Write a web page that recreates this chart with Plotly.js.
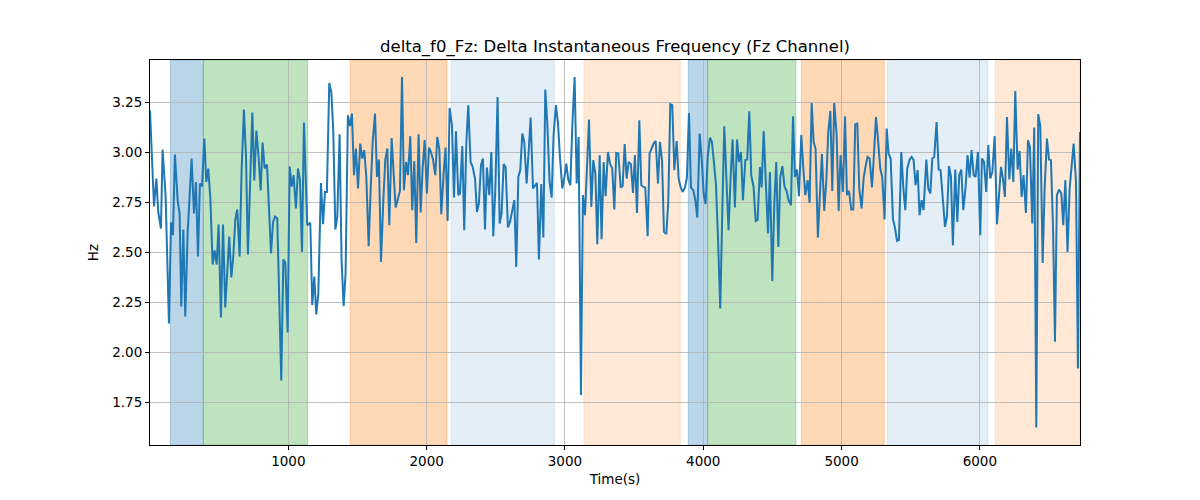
<!DOCTYPE html>
<html>
<head>
<meta charset="utf-8">
<script src="https://cdn.plot.ly/plotly-3.0.1.min.js"></script>
<style>
  body { margin: 0; background: #fff; }
  #myDiv { width: 1200px; height: 500px; }
</style>
</head>
<body>
<div id="myDiv"></div>
<script>
var timeA = [0,29,46,60,79,91,113,137,152,166,180,200,214,226,241,255,272,287,301,318,332,347,361,376,393,407,421,436,453,467,482,496,513,528,544,573,588,602,617,631,648,662,679,694,708,740,754,769,785,800,814,829,846,875,889,904,920,949,964,978,995,1010,1024,1038,1055,1070,1084,1099,1113,1137];
var hzA = [3.21,2.73,2.87,2.70,2.62,3.015,2.78,2.145,2.65,2.587,2.99,2.76,2.695,2.23,2.615,2.18,2.595,2.795,2.97,2.695,2.853,2.48,2.845,2.83,3.07,2.853,2.92,2.775,2.44,2.51,2.44,2.64,2.175,2.64,2.225,2.58,2.375,2.48,2.665,2.715,2.48,2.903,3.215,2.98,2.49,3.20,2.86,3.11,2.98,2.81,3.05,2.92,2.94,2.495,2.65,2.68,2.67,1.86,2.465,2.45,2.10,2.93,2.83,2.887,2.72,2.92,2.865,2.503,3.15,2.637];

var timeB = [1159,1173,1188,1202,1217,1236,1251,1265,1279,1296,1311,1325,1340,1354,1371,1385,1400,1414,1431,1446,1460,1475,1489,1504,1520,1535,1549,1564,1581,1595,1610,1627,1641,1655,1670,1687,1701,1716,1730,1747,1761,1776,1790,1807,1822,1836,1851,1865,1882,1896,1911,1925,1942,1957,1971,1986,2002,2017,2031,2046,2063,2077,2092,2106,2123,2137,2152,2166,2183,2198,2212,2229];
var hzB = [2.648,2.237,2.38,2.19,2.295,2.848,2.642,2.803,2.803,3.348,3.303,3.112,2.615,2.678,3.092,2.462,2.232,2.395,3.187,3.132,3.195,2.887,3.02,2.82,3.045,2.97,3.012,2.878,2.532,2.812,3.053,3.195,2.878,2.965,2.453,2.762,2.962,3.02,2.637,3.073,2.928,2.725,2.762,2.808,3.378,2.812,2.953,2.887,3.082,2.712,2.957,2.548,3.092,2.70,2.92,3.062,2.795,3.025,3.003,2.965,2.887,3.078,3.015,2.692,2.895,3.025,2.658,3.223,3.137,2.775,3.107,2.787];

var timeC = [2241,2258,2272,2287,2301,2318,2333,2350,2364,2378,2393,2407,2422,2436,2453,2468,2482,2497,2513,2528,2542,2557,2571,2588,2603,2617,2634,2648,2663,2677,2692,2706,2723,2737,2752,2769,2783,2798,2812,2829,2844,2858,2872,2889,2904,2918,2935,2950,2964,2981,2995,3010,3024,3039,3053,3070,3085,3099,3116,3130,3145,3159,3174,3191,3205,3220,3234,3251,3265,3280,3294,3311,3326];
var hzC = [2.795,3.032,2.612,3.045,3.237,2.953,2.928,2.87,2.703,2.745,2.937,2.97,2.615,2.925,2.787,3.003,2.582,2.82,3.278,2.645,2.695,2.942,2.928,2.625,2.653,2.695,2.762,2.428,2.878,2.912,3.095,3.053,2.845,2.995,3.175,2.82,2.837,2.848,2.465,2.842,2.575,3.315,3.153,2.853,2.775,3.087,3.237,3.145,2.978,2.82,2.87,2.945,2.865,2.837,3.128,3.378,2.845,3.078,1.787,2.787,2.687,2.92,3.165,2.728,2.962,2.895,2.542,2.987,2.567,2.953,2.782,3.003,2.945];

var timeD = [3342,3357,3371,3386,3403,3417,3432,3446,3461,3477,3492,3506,3521,3538,3552,3567,3581,3598,3612,3627,3641,3656,3673,3687,3702,3716,3733,3747,3762,3776,3791,3808,3822,3836,3851,3868,3882,3897,3911,3928,3943,3957,3974,3988,4003,4017,4032,4049,4063,4077,4092,4106,4123,4138,4152,4167,4183,4198,4212,4229,4244,4258,4273,4287,4304,4318,4333,4347,4364,4379,4393,4410];
var hzD = [2.92,2.715,2.998,2.995,2.825,2.832,3.042,2.87,2.953,2.942,2.798,2.987,2.698,3.162,2.837,2.828,2.825,2.582,2.995,3.02,3.045,3.058,2.845,3.053,2.962,2.603,2.592,2.753,3.242,3.237,2.912,3.057,2.87,2.828,2.803,2.825,2.875,3.198,2.825,2.812,2.762,2.675,3.095,2.978,2.795,2.742,2.978,3.075,3.053,2.953,2.837,2.587,2.22,2.712,3.132,2.878,2.612,2.878,3.065,2.725,3.065,2.953,3.003,2.762,2.962,2.965,3.207,2.887,2.828,2.658,2.662,2.928];

var timeE = [4422,4437,4454,4468,4482,4499,4514,4528,4543,4557,4572,4588,4603,4617,4634,4649,4663,4678,4692,4709,4723,4738,4755,4769,4784,4798,4812,4829,4844,4858,4875,4890,4904,4919,4933,4947,4964,4979,4993,5010,5025,5039,5054,5070,5085,5099,5114,5128,5145,5160,5174,5188,5203,5220,5234,5249,5263,5280,5294,5311,5326,5340,5355,5372,5386,5401,5415,5432,5446,5461,5475,5492];
var hzE = [2.825,3.107,2.828,2.595,2.903,2.358,2.745,2.953,2.528,2.878,2.932,2.828,2.808,2.762,2.737,3.182,2.878,2.915,2.782,3.087,2.928,2.787,2.862,2.748,3.248,3.053,3.02,2.575,2.798,2.992,2.708,2.862,3.103,3.208,2.808,3.248,3.095,2.708,2.987,2.803,3.182,2.787,2.808,2.715,2.715,3.142,3.145,2.82,2.72,2.875,2.932,2.978,2.97,2.825,2.987,3.178,3.07,2.92,2.878,2.665,3.12,2.995,2.97,2.665,2.625,2.558,2.562,3.003,2.828,2.712,2.92,2.965];

var timeF = [5507,5521,5535,5550,5564,5579,5593,5613,5627,5642,5656,5670,5687,5702,5716,5733,5748,5762,5777,5791,5805,5822,5837,5851,5866,5880,5897,5911,5926,5940,5955,5969,5986,6003,6015,6030,6046,6061,6075,6090,6107,6124,6138,6153,6167,6181,6196,6213,6227,6242,6256,6273,6287,6302,6316,6333,6348,6362,6379,6393,6408,6422,6437,6454,6468,6485,6500,6514,6529,6543,6557,6572,6589,6603,6618,6634,6649,6663,6678,6695,6709,6724];
var hzF = [2.978,2.962,2.837,2.912,2.687,2.762,2.712,2.965,2.82,2.795,2.97,2.978,3.153,2.915,2.912,2.762,2.628,2.682,2.932,2.878,2.537,2.915,2.653,2.887,2.915,2.712,2.828,2.987,2.875,3.012,2.887,2.878,3.003,2.587,2.97,2.953,2.803,3.037,2.87,2.903,3.082,2.642,2.795,2.928,2.87,2.778,3.178,2.865,3.02,2.853,3.308,2.915,3.008,2.778,2.887,2.698,3.062,3.028,2.645,3.125,1.625,3.192,3.132,2.448,2.815,3.07,2.965,2.962,2.628,2.053,2.787,2.815,2.795,2.637,2.862,2.503,2.82,2.945,3.045,2.853,1.92,3.103];

// shaded phases
var phaseStart = [147, 385, 1447, 2178, 3137, 3892, 4032, 4709, 5331, 6111];
var phaseEnd   = [385, 1140, 2147, 2923, 3834, 4032, 4670, 5309, 6058, 6724];
var phaseKind  = ['blue', 'green', 'orange', 'paleblue', 'paleorange',
                  'blue', 'green', 'orange', 'paleblue', 'paleorange'];

var xTicks = [1000, 2000, 3000, 4000, 5000, 6000];
var yTicks = [1.75, 2.00, 2.25, 2.50, 2.75, 3.00, 3.25];

var kindColor = {
  blue: 'rgba(31,119,180,0.3)',
  green: 'rgba(44,160,44,0.3)',
  orange: 'rgba(255,127,14,0.3)',
  paleblue: 'rgba(31,119,180,0.12)',
  paleorange: 'rgba(255,127,14,0.17)'
};

var t = timeA.concat(timeB, timeC, timeD, timeE, timeF);
var hz = hzA.concat(hzB, hzC, hzD, hzE, hzF);

var shapes = [];
for (var i = 0; i < phaseStart.length; i++) {
  shapes.push({
    type: 'rect', xref: 'x', yref: 'paper',
    x0: phaseStart[i], x1: phaseEnd[i], y0: 0, y1: 1,
    fillcolor: kindColor[phaseKind[i]],
    line: {width: 1, color: kindColor[phaseKind[i]]},
    layer: 'below'
  });
}

var trace1 = {
  x: t,
  y: hz,
  mode: 'lines',
  type: 'scatter',
  line: {color: '#1f77b4', width: 2},
  hoverinfo: 'x+y'
};

var fontFam = 'DejaVu Sans, sans-serif';

var layout = {
  width: 1200,
  height: 500,
  margin: {l: 150, r: 120, t: 60, b: 55},
  paper_bgcolor: '#fff',
  plot_bgcolor: 'rgba(0,0,0,0)',
  font: {family: fontFam, size: 13.5, color: '#000'},
  showlegend: false,
  title: {
    text: 'delta_f0_Fz: Delta Instantaneous Frequency (Fz Channel)',
    font: {family: fontFam, size: 16.5, color: '#000'},
    x: 0.5, xref: 'paper', xanchor: 'center',
    y: 1 - 46 / 500, yref: 'container', yanchor: 'middle'
  },
  xaxis: {
    range: [0, 6724],
    tickvals: xTicks,
    ticktext: xTicks.map(String),
    showgrid: true, gridcolor: '#b0b0b0', gridwidth: 0.8,
    zeroline: false,
    showline: true, mirror: true, linecolor: '#000', linewidth: 1,
    ticks: 'outside', ticklen: 4, tickcolor: '#000',
    title: {text: 'Time(s)', font: {family: fontFam, size: 13.5, color: '#000'}, standoff: 6}
  },
  yaxis: {
    range: [1.537, 3.463],
    tickvals: yTicks,
    tickformat: '.2f',
    showgrid: true, gridcolor: '#b0b0b0', gridwidth: 0.8,
    zeroline: false,
    showline: true, mirror: true, linecolor: '#000', linewidth: 1,
    ticks: 'outside', ticklen: 4, tickcolor: '#000',
    title: {text: 'Hz', font: {family: fontFam, size: 13.5, color: '#000'}, standoff: 10}
  },
  shapes: shapes
};

Plotly.newPlot('myDiv', [trace1], layout, {displayModeBar: false, staticPlot: true});
</script>
</body>
</html>
